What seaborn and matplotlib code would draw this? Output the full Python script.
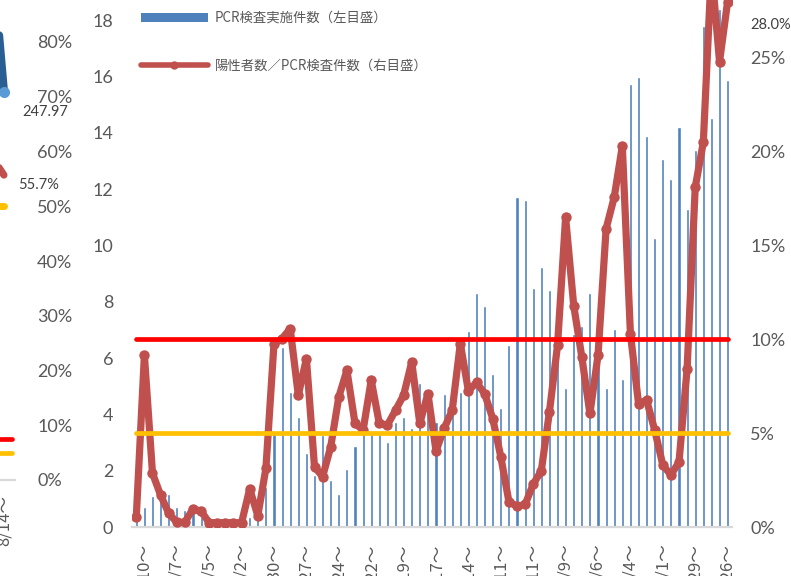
import numpy as np
import pandas as pd
import matplotlib
matplotlib.use("Agg")
from matplotlib import pyplot as plt
from matplotlib.patches import Patch
from matplotlib.lines import Line2D
import seaborn as sns

# weekly PCR tests (left axis) and positive rate in % (right axis)
tests = [0.40, 0.70, 1.10, 1.25, 1.19, 0.70, 0.62, 0.50, 0.35, 0.30,
         0.30, 0.30, 0.30, 0.35, 0.37, 0.45, 1.43, 3.35, 6.39, 4.80,
         3.91, 2.63, 1.86, 3.26, 1.67, 1.18, 2.06, 2.87, 3.38, 3.30,
         3.32, 3.03, 3.73, 3.91, 3.50, 5.12, 4.60, 3.73, 4.72, 4.15,
         4.80, 6.96, 8.32, 7.85, 5.45, 4.23, 6.48, 11.71, 11.63, 8.50,
         9.22, 8.43, 6.50, 4.95, 6.87, 7.13, 8.32, 6.00, 4.95, 7.05,
         5.27, 15.73, 15.97, 13.88, 10.26, 13.07, 12.37, 14.20, 11.30, 13.39,
         17.80, 14.53, 18.40, 15.89]
pos_rate = [0.55, 9.15, 2.86, 1.70, 0.73, 0.25, 0.25, 0.97, 0.84, 0.23,
            0.23, 0.23, 0.23, 0.23, 2.03, 0.60, 3.12, 9.77, 10.04, 10.57,
            7.02, 8.97, 3.21, 2.68, 4.27, 6.93, 8.35, 5.52, 5.16, 7.82,
            5.52, 5.43, 6.22, 7.02, 8.79, 5.52, 7.11, 4.05, 5.25, 6.22,
            9.77, 7.25, 7.70, 7.11, 5.78, 3.74, 1.35, 1.10, 1.20, 2.28,
            3.00, 6.13, 9.68, 16.50, 11.80, 9.06, 6.05, 9.15, 15.90, 17.57,
            20.30, 10.30, 6.58, 6.76, 5.16, 3.30, 2.77, 3.47, 8.44, 18.10,
            20.50, 29.80, 24.80, 28.00]
week_labels = ["4/10～", "5/7～", "6/5～", "7/2～", "7/30～", "8/27～", "9/24～",
               "10/22～", "11/19～", "12/17～", "1/14～", "2/11～", "3/11～", "4/9～",
               "5/6～", "6/4～", "7/1～", "7/29～", "8/26～"]
red_level = 10.0
yellow_level = 5.0

# right edge of the neighbouring chart
prev_rate = [64.0, 55.7]
prev_yellow = [50.0, 50.0]
prev_blue = [470.0, 247.97]
prev_labels = ["7/17～", "8/14～"]
prev_red_level = 7.5
prev_yellow_level = 5.0

GREY = "#595959"
BLUE = "#4F81BD"
RED = "#C0504D"
CJK = ["Noto Sans CJK JP", "DejaVu Sans"]

sns.set_theme(style="white")
plt.rcParams["font.family"] = ["Lato", "Noto Sans CJK JP", "DejaVu Sans"]

df = pd.DataFrame({"week": np.arange(len(tests)), "tests": tests, "rate": pos_rate})
prev = pd.DataFrame({"week": np.arange(len(prev_rate)), "rate": prev_rate,
                     "yellow": prev_yellow, "blue": prev_blue})

W, H = 791, 576
fig = plt.figure(figsize=(W / 100, H / 100), dpi=100)


def px_box(x0, x1, y_top, y_bot):
    return [x0 / W, 1 - y_bot / H, (x1 - x0) / W, (y_bot - y_top) / H]


# ---- main chart ----
ax = fig.add_axes(px_box(132, 732, -36, 527))
sns.barplot(data=df, x="week", y="tests", color=BLUE, saturation=1,
            width=0.38, ax=ax)
ax2 = ax.twinx()
sns.lineplot(data=df, x="week", y="rate", ax=ax2, color=RED, lw=5.2,
             marker="o", markersize=7.5, markeredgewidth=0,
             solid_joinstyle="round", solid_capstyle="round", zorder=2)
ends = [df["week"].iloc[0], df["week"].iloc[-1]]
ax2.plot(ends, [red_level] * 2, color="#FF0000", lw=3.4,
         solid_capstyle="round", zorder=4)
ax2.plot(ends, [yellow_level] * 2, color="#FFC000", lw=3.4,
         solid_capstyle="round", zorder=4)

ax.set_xlim(-0.53, 73.54)
ax.set_ylim(0, 20)
ax2.set_ylim(0, 30)
ax.set_yticks(range(0, 21, 2))
ax2.set_yticks(range(0, 31, 5))
ax2.set_yticklabels([f"{v}%" for v in range(0, 31, 5)])
ax.set_xticks(df["week"].iloc[1::4])
ax.set_xticklabels(week_labels, rotation=90, family=CJK)
ax.tick_params(axis="y", length=0, pad=13.5, labelsize=13, labelcolor=GREY)
ax2.tick_params(axis="y", length=0, pad=13, labelsize=13, labelcolor=GREY)
ax.tick_params(axis="x", length=0, pad=12, labelsize=12, labelcolor=GREY)
for a in (ax, ax2):
    a.set_xlabel("")
    a.set_ylabel("")
    for s in a.spines.values():
        s.set_visible(False)
ax.spines["bottom"].set_visible(True)
ax.spines["bottom"].set_color("#D9D9D9")
ax.spines["bottom"].set_linewidth(1.6)

ax2.annotate(f"{pos_rate[-1]:.1f}%", xy=(df["week"].iloc[-1], pos_rate[-1]),
             xytext=(43, -23), textcoords="offset pixels", ha="center",
             va="center", fontsize=10.5, color="#404040", annotation_clip=False)

handles = [Patch(facecolor=BLUE, edgecolor="none"),
           Line2D([], [], color=RED, lw=4, marker="o", markersize=5)]
fig.legend(handles, ["PCR検査実施件数（左目盛）", "陽性者数／PCR検査件数（右目盛）"],
           loc="upper left", bbox_to_anchor=(141 / W, 1 - 11 / H), frameon=False,
           prop={"family": CJK, "size": 9.6},
           labelcolor=GREY, handlelength=5, handleheight=0.7, handletextpad=0.55,
           labelspacing=2.55, borderpad=0, borderaxespad=0)

# ---- neighbouring chart, cut at the left edge ----
axf = fig.add_axes(px_box(-300, 15, -67.5, 480))
sns.lineplot(data=prev, x="week", y="yellow", ax=axf, color="#FFC000", lw=5,
             solid_capstyle="round")
sns.lineplot(data=prev, x="week", y="rate", ax=axf, color=RED, lw=5.2,
             solid_capstyle="round")
axf.axhline(prev_red_level, xmax=0.99, color="#FF0000", lw=3.4,
            solid_capstyle="round")
axf.axhline(prev_yellow_level, xmax=0.99, color="#FFC000", lw=3.4,
            solid_capstyle="round")
axf2 = axf.twinx()
axf2.plot(prev["week"], prev["blue"], color="#2A5F93", lw=6, marker="o",
          markersize=8, markerfacecolor="#5B9BD5", markeredgewidth=0,
          solid_capstyle="round")
axf.set_xlim(-9.13, 1.37)
axf.set_ylim(0, 100)
axf2.set_ylim(0, 350)
axf.yaxis.tick_right()
axf.set_yticks(range(0, 101, 10))
axf.set_yticklabels([f"{v}%" for v in range(0, 101, 10)])
axf.set_xticks(prev["week"])
axf.set_xticklabels(prev_labels, rotation=90, family=CJK)
axf.tick_params(axis="y", length=0, pad=16, labelsize=13, labelcolor=GREY)
axf.tick_params(axis="x", length=0, pad=11, labelsize=12, labelcolor=GREY)
axf2.set_yticks([])
for a in (axf, axf2):
    a.set_xlabel("")
    a.set_ylabel("")
    for s in a.spines.values():
        s.set_visible(False)
axf.spines["bottom"].set_visible(True)
axf.spines["bottom"].set_color("#D9D9D9")
axf.spines["bottom"].set_linewidth(1.6)

axf2.annotate(f"{prev_blue[-1]:.2f}", xy=(prev["week"].iloc[-1], prev_blue[-1]),
              xytext=(41, -20), textcoords="offset pixels", ha="center",
              va="center", fontsize=10.5, color="#404040", annotation_clip=False)
axf.annotate(f"{prev_rate[-1]:.1f}%", xy=(prev["week"].iloc[-1], prev_rate[-1]),
             xytext=(35, -10), textcoords="offset pixels", ha="center",
             va="center", fontsize=10.5, color="#404040", annotation_clip=False)

fig.savefig("out.png", dpi=100)
